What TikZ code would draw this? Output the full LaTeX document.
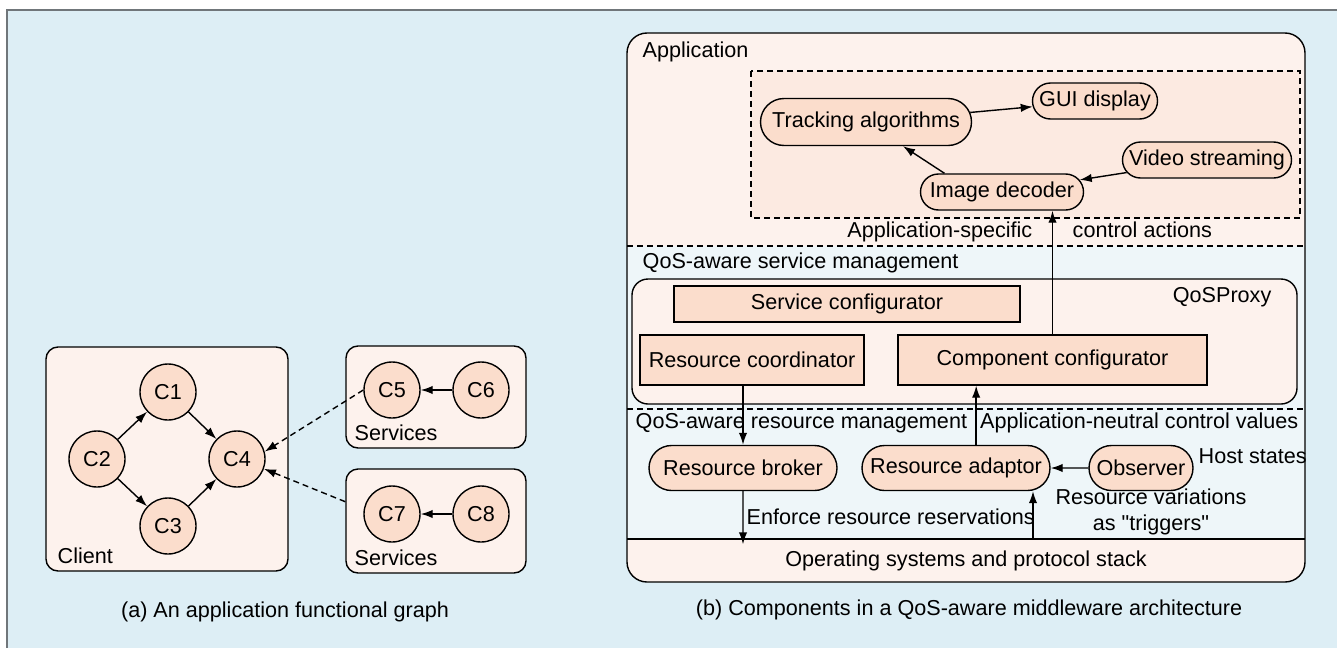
\documentclass[tikz,border=0pt]{standalone}
\usepackage{fontspec}
\setmainfont{Liberation Sans}[Ligatures = TeXOff]
\usetikzlibrary{arrows.meta,shapes.misc}

\definecolor{back}{RGB}{221,238,245}
\definecolor{strip}{RGB}{238,246,249}
\definecolor{panel}{RGB}{253,242,237}
\definecolor{inner}{RGB}{252,234,225}
\definecolor{part}{RGB}{251,221,204}
\definecolor{edge}{RGB}{112,118,122}

\begin{document}
\begin{tikzpicture}[x = 0.5pt, y = -0.5pt, line width = 0.7pt, inner sep = 0pt,
  font = \fontsize{10.8}{13}\selectfont,
  comp/.style = {draw, circle, fill = part, minimum size = 28pt},
  area/.style = {draw, fill = panel, rounded corners = 6pt},
  pill/.style = {draw, rounded rectangle, fill = part, minimum height = 18pt},
  unit/.style = {draw, rectangle, fill = part, minimum height = 25pt},
  arr/.style = {-{Latex[length = 6pt, width = 4.2pt]}},
  dashline/.style = {dash pattern = on 3pt off 2pt}]
\useasboundingbox (0,0) rectangle (1337,648);
\fill[back] (7,10) rectangle (1337,648);
\draw[edge, line width = 1.2pt] (7,648) -- (7,10) -- (1337,10);

\node[area, minimum width = 121pt, minimum height = 112pt] (client) at (167,459) {};
\node[area, minimum width = 90pt, minimum height = 51pt] (svc1) at (436,397) {};
\node[area, minimum width = 90pt, minimum height = 52pt] (svc2) at (436,521) {};
\node[comp] (1) at (168,392) {C1};
\node[comp] (2) at (97,459) {C2};
\node[comp] (3) at (168,526) {C3};
\node[comp] (4) at (237,459) {C4};
\node[comp] (5) at (392,390) {C5};
\node[comp] (6) at (481,390) {C6};
\node[comp] (7) at (392,514) {C7};
\node[comp] (8) at (481,514) {C8};
\draw[arr] (2) -- (1);
\draw[arr] (1) -- (4);
\draw[arr] (2) -- (3);
\draw[arr] (3) -- (4);
\draw[arr] (6) -- (5);
\draw[arr] (8) -- (7);
\draw[arr, dashline] (5.west) -- (4.15);
\draw[arr, dashline] (svc2.168) -- (4.-20);

\fill[panel, rounded corners = 10pt] (627,33) rectangle (1305,582);
\fill[strip] (627,246) rectangle (1305,539);
\draw[rounded corners = 10pt] (627,33) rectangle (1305,582);
\draw[dashline] (627,246) -- (1305,246);
\draw[dashline] (627,409) -- (1305,409);
\draw (627,539) -- (1305,539);
\draw[dashline, fill = inner] (751,71) rectangle (1300,218);

\node[pill, minimum width = 105.5pt, minimum height = 23.5pt] (track) at (866,122) {Tracking algorithms};
\node[pill, minimum width = 62.5pt] (gui) at (1095,101) {GUI display};
\node[pill, minimum width = 84.5pt] (video) at (1207,160) {Video streaming};
\node[pill, minimum width = 81.5pt] (decoder) at (1002,192) {Image decoder};
\node[area, rounded corners = 8pt, minimum width = 332.5pt, minimum height = 62.5pt] (proxy) at (964.5,341.5) {};
\node[unit, minimum width = 173pt, minimum height = 18pt] (sconf) at (847,304) {Service configurator};
\node[unit, minimum width = 112pt] (rcoord) at (752,360) {Resource coordinator};
\node[unit, minimum width = 154.5pt] (cconf) at (1052.5,360) {Component configurator};
\node[pill, minimum width = 94pt, minimum height = 22.5pt] (broker) at (743,468) {Resource broker};
\node[pill, minimum width = 94pt, minimum height = 22.5pt] (adaptor) at (956,468) {Resource adaptor};
\node[pill, minimum width = 52pt, minimum height = 22.5pt] (observer) at (1141,468) {Observer};
\node[minimum width = 339pt, minimum height = 21.5pt] (os) at (966,560.5) {Operating systems and protocol stack};
\coordinate (trigger) at (1033,539);
\draw[arr] (track) -- (gui);
\draw[arr] (video) -- (decoder);
\draw[arr] (decoder.162) -- (track);
\draw[arr] (cconf.north) -- (cconf.north |- decoder.south);
\draw[arr] (rcoord.south -| broker.north) -- (broker.north);
\draw[arr] (adaptor.49) -- (adaptor.49 |- cconf.south);
\draw[arr] (observer) -- (adaptor);
\draw[arr, shorten >= -3pt] (broker) -- (broker |- os.north);
\draw[arr] (trigger) -- (trigger |- adaptor.south);

\begin{scope}[nodes = {anchor = base west}]
\node (lclient) at (57,563) {Client};
\node (lsvc1) at (354,440) {Services};
\node (lsvc2) at (354,565) {Services};
\node (lapp) at (642,57) {Application};
\node[anchor = base east] (lspecific) at (1033,237) {Application-specific};
\node (lactions) at (1072,237) {control actions};
\node (lservice) at (642,268) {QoS-aware service management};
\node[anchor = base east] (lproxy) at (1272,302) {QoSProxy};
\node (lresource) at (635,428) {QoS-aware resource management};
\node[anchor = base east] (lneutral) at (1299,428) {Application-neutral control values};
\node (lhost) at (1198,463) {Host states};
\node (lenforce) at (746,524) {Enforce resource reservations};
\node[anchor = center, align = center] (lvariations) at (1151,512) {Resource variations\\as "triggers"};
\node[anchor = base] (capa) at (285,617) {(a) An application functional graph};
\node[anchor = base] (capb) at (969,615) {(b) Components in a QoS-aware middleware architecture};
\end{scope}
\end{tikzpicture}
\end{document}
